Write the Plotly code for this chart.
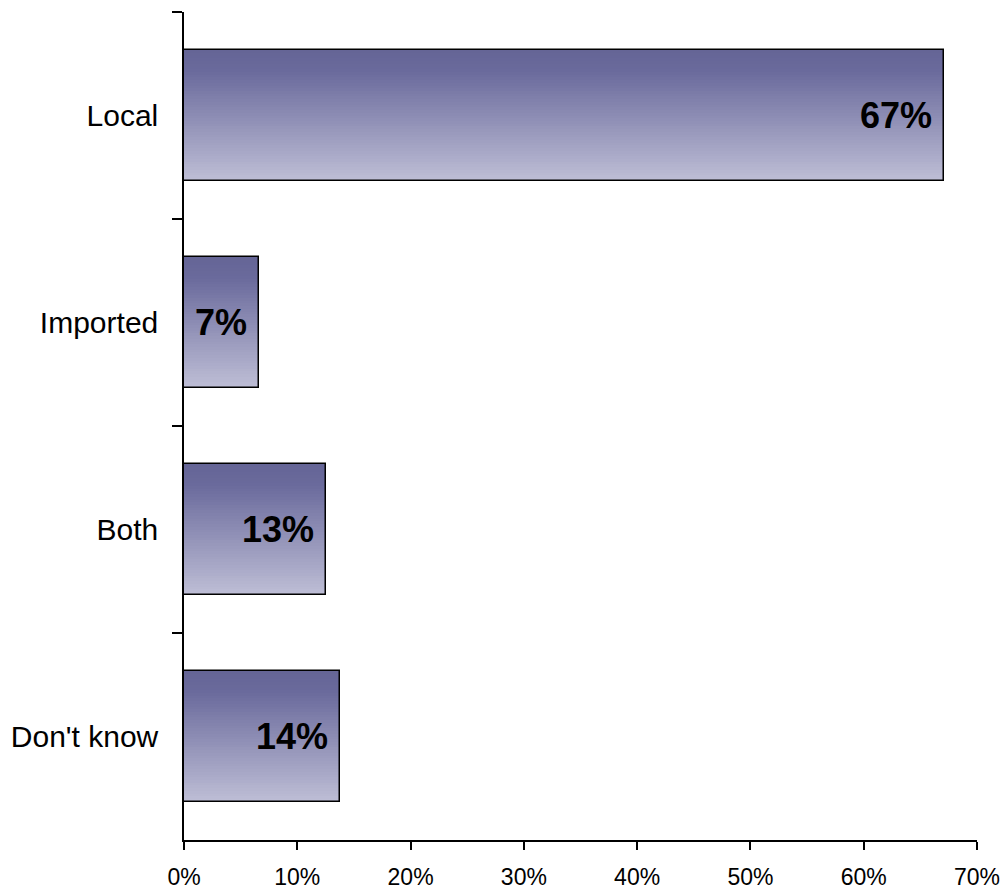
import plotly.graph_objects as go

categories = ["Local", "Imported", "Both", "Don't know"]
values = [67.1, 6.6, 12.5, 13.8]
labels = ["67%", "7%", "13%", "14%"]
x_ticks = [0, 10, 20, 30, 40, 50, 60, 70]
x_tick_text = ["0%", "10%", "20%", "30%", "40%", "50%", "60%", "70%"]

FONT = "Liberation Sans, Arial, sans-serif"
bar_w = 0.63
n_strips = 48
top_rgb = (101, 101, 150)
mid_rgb = (106, 106, 156)
bot_rgb = (189, 189, 213)


def grad(t):
    if t < 0.15:
        a, b, f = top_rgb, mid_rgb, t / 0.15
    else:
        a, b, f = mid_rgb, bot_rgb, (t - 0.15) / 0.85
    return "rgb(%d,%d,%d)" % tuple(round(a[i] + (b[i] - a[i]) * f) for i in range(3))


fig = go.Figure()
step = bar_w / n_strips
for k in range(n_strips):
    fig.add_trace(go.Bar(
        y=categories, x=values, orientation="h",
        width=step * 1.05, offset=-bar_w / 2 + k * step,
        marker=dict(color=grad(k / (n_strips - 1)), line=dict(width=0)),
        hoverinfo="skip", showlegend=False,
    ))

# outline
fig.add_trace(go.Bar(
    y=categories, x=values, orientation="h", width=bar_w,
    marker=dict(color="rgba(0,0,0,0)", line=dict(color="black", width=1.5)),
    showlegend=False,
))

for cat, v, lab in zip(categories, values, labels):
    fig.add_annotation(x=v, y=cat, text="<b>%s</b>" % lab, showarrow=False,
                       xanchor="right", yanchor="middle", xshift=-10,
                       font=dict(family=FONT, size=36, color="black"))

fig.update_layout(
    width=1004, height=890,
    margin=dict(l=184, r=27, t=12, b=50, autoexpand=False),
    paper_bgcolor="white", plot_bgcolor="white",
    barmode="overlay", bargap=0,
    font=dict(family=FONT, color="black"),
)
fig.update_xaxes(
    range=[0, 70], tickvals=x_ticks, ticktext=x_tick_text,
    showgrid=False, zeroline=False, automargin=False,
    showline=True, linecolor="black", linewidth=1.5,
    ticks="outside", ticklen=8, tickwidth=1.5, tickcolor="black",
    ticklabelstandoff=8,
    tickfont=dict(family=FONT, size=23, color="black"),
)
fig.update_yaxes(
    categoryorder="array", categoryarray=categories, autorange="reversed",
    range=[3.5, -0.5],
    showgrid=False, zeroline=False, automargin=False,
    showline=True, linecolor="black", linewidth=1.5,
    ticks="outside", ticklen=10, tickwidth=1.5, tickcolor="black",
    tickson="boundaries",
    ticklabelstandoff=18,
    tickfont=dict(family=FONT, size=30, color="black"),
)

fig.write_html("out.html", config={"displayModeBar": False},
               post_script="document.body.style.margin='0';document.body.style.overflow='hidden';")
